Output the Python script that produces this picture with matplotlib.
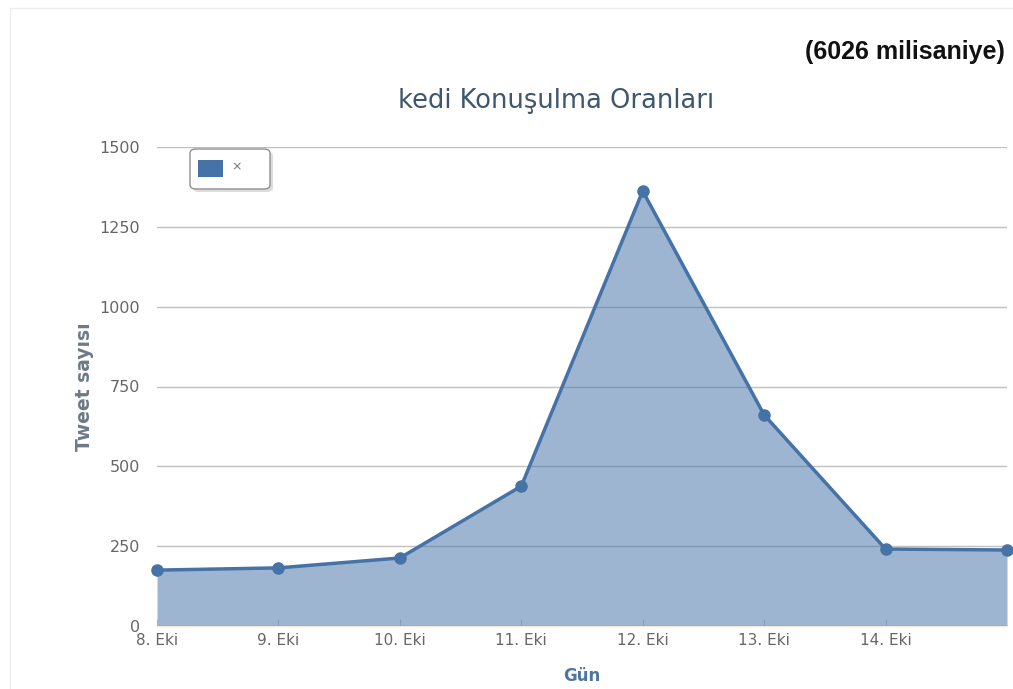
import matplotlib.pyplot as plt
from matplotlib.patches import FancyBboxPatch, Rectangle

days = ['8. Eki', '9. Eki', '10. Eki', '11. Eki', '12. Eki', '13. Eki', '14. Eki', '']
tweets = [175, 182, 213, 438, 1362, 661, 241, 238]
yticks = [0, 250, 500, 750, 1000, 1250, 1500]

plt.rcParams['font.family'] = ['DejaVu Sans']

fig = plt.figure(figsize=(10.13, 6.89), dpi=100)
ax = fig.add_axes([157 / 1013, 1 - 626 / 689, 850 / 1013, 479 / 689])

x = list(range(len(tweets)))
ax.fill_between(x, tweets, 0, color='#4572A7', alpha=0.52, linewidth=0)
ax.plot(x, tweets, color='#4572A7', linewidth=2.5, marker='o', markersize=8, zorder=3, clip_on=False)

ax.set_xlim(0, 7)
ax.set_ylim(0, 1500)
ax.set_yticks(yticks)
ax.set_yticklabels([str(v) for v in yticks], color='#666666', fontsize=11.5)
ax.set_xticks(x[:-1])
ax.set_xticklabels(days[:-1], color='#666666', fontsize=11)
ax.tick_params(axis='y', length=0, pad=12)
ax.tick_params(axis='x', length=5, direction='in', color='#c0d0e0', pad=5)
ax.grid(axis='y', color='#c0c0c0', linewidth=1)
ax.set_axisbelow(True)
for s in ['top', 'right', 'left']:
    ax.spines[s].set_visible(False)
ax.spines['bottom'].set_color('#f0e6d8')

ax.set_ylabel('Tweet sayısı', color='#6d7a86', fontsize=13.5, fontweight='bold', labelpad=4)
ax.set_xlabel('Gün', color='#4d759e', fontsize=12, fontweight='bold', labelpad=14)

fig.text(556 / 1013, 1 - 101 / 689, 'kedi Konuşulma Oranları', ha='center', va='center',
         color='#3e576f', fontsize=18.5)
fig.text(1005 / 1013, 1 - 52 / 689, '(6026 milisaniye)', ha='right', va='center',
         fontsize=18, fontweight='bold', family=['Liberation Sans', 'DejaVu Sans'], color='#111111')

# legend box
shadow = FancyBboxPatch((193 / 1013, 1 - 192 / 689), 80 / 1013, 40 / 689,
                        boxstyle='round,pad=0,rounding_size=0.006', transform=fig.transFigure,
                        facecolor='#dddddd', edgecolor='none', zorder=4)
box = FancyBboxPatch((190 / 1013, 1 - 189 / 689), 80 / 1013, 40 / 689,
                     boxstyle='round,pad=0,rounding_size=0.006', transform=fig.transFigure,
                     facecolor='white', edgecolor='#909090', linewidth=1, zorder=5)
fig.patches.extend([shadow, box])
fig.add_artist(Rectangle((198 / 1013, 1 - 177 / 689), 25 / 1013, 17 / 689, transform=fig.transFigure,
                         facecolor='#4572A7', edgecolor='none', zorder=6))
fig.text(237 / 1013, 1 - 167 / 689, '×', ha='center', va='center', fontsize=9, color='#777777', zorder=6)

fig.add_artist(Rectangle((10 / 1013, -0.01), 1.1, 1 - 8 / 689 + 0.01, transform=fig.transFigure,
                         facecolor='none', edgecolor='#eeeeee', linewidth=1))

fig.savefig('out.png', dpi=100)
